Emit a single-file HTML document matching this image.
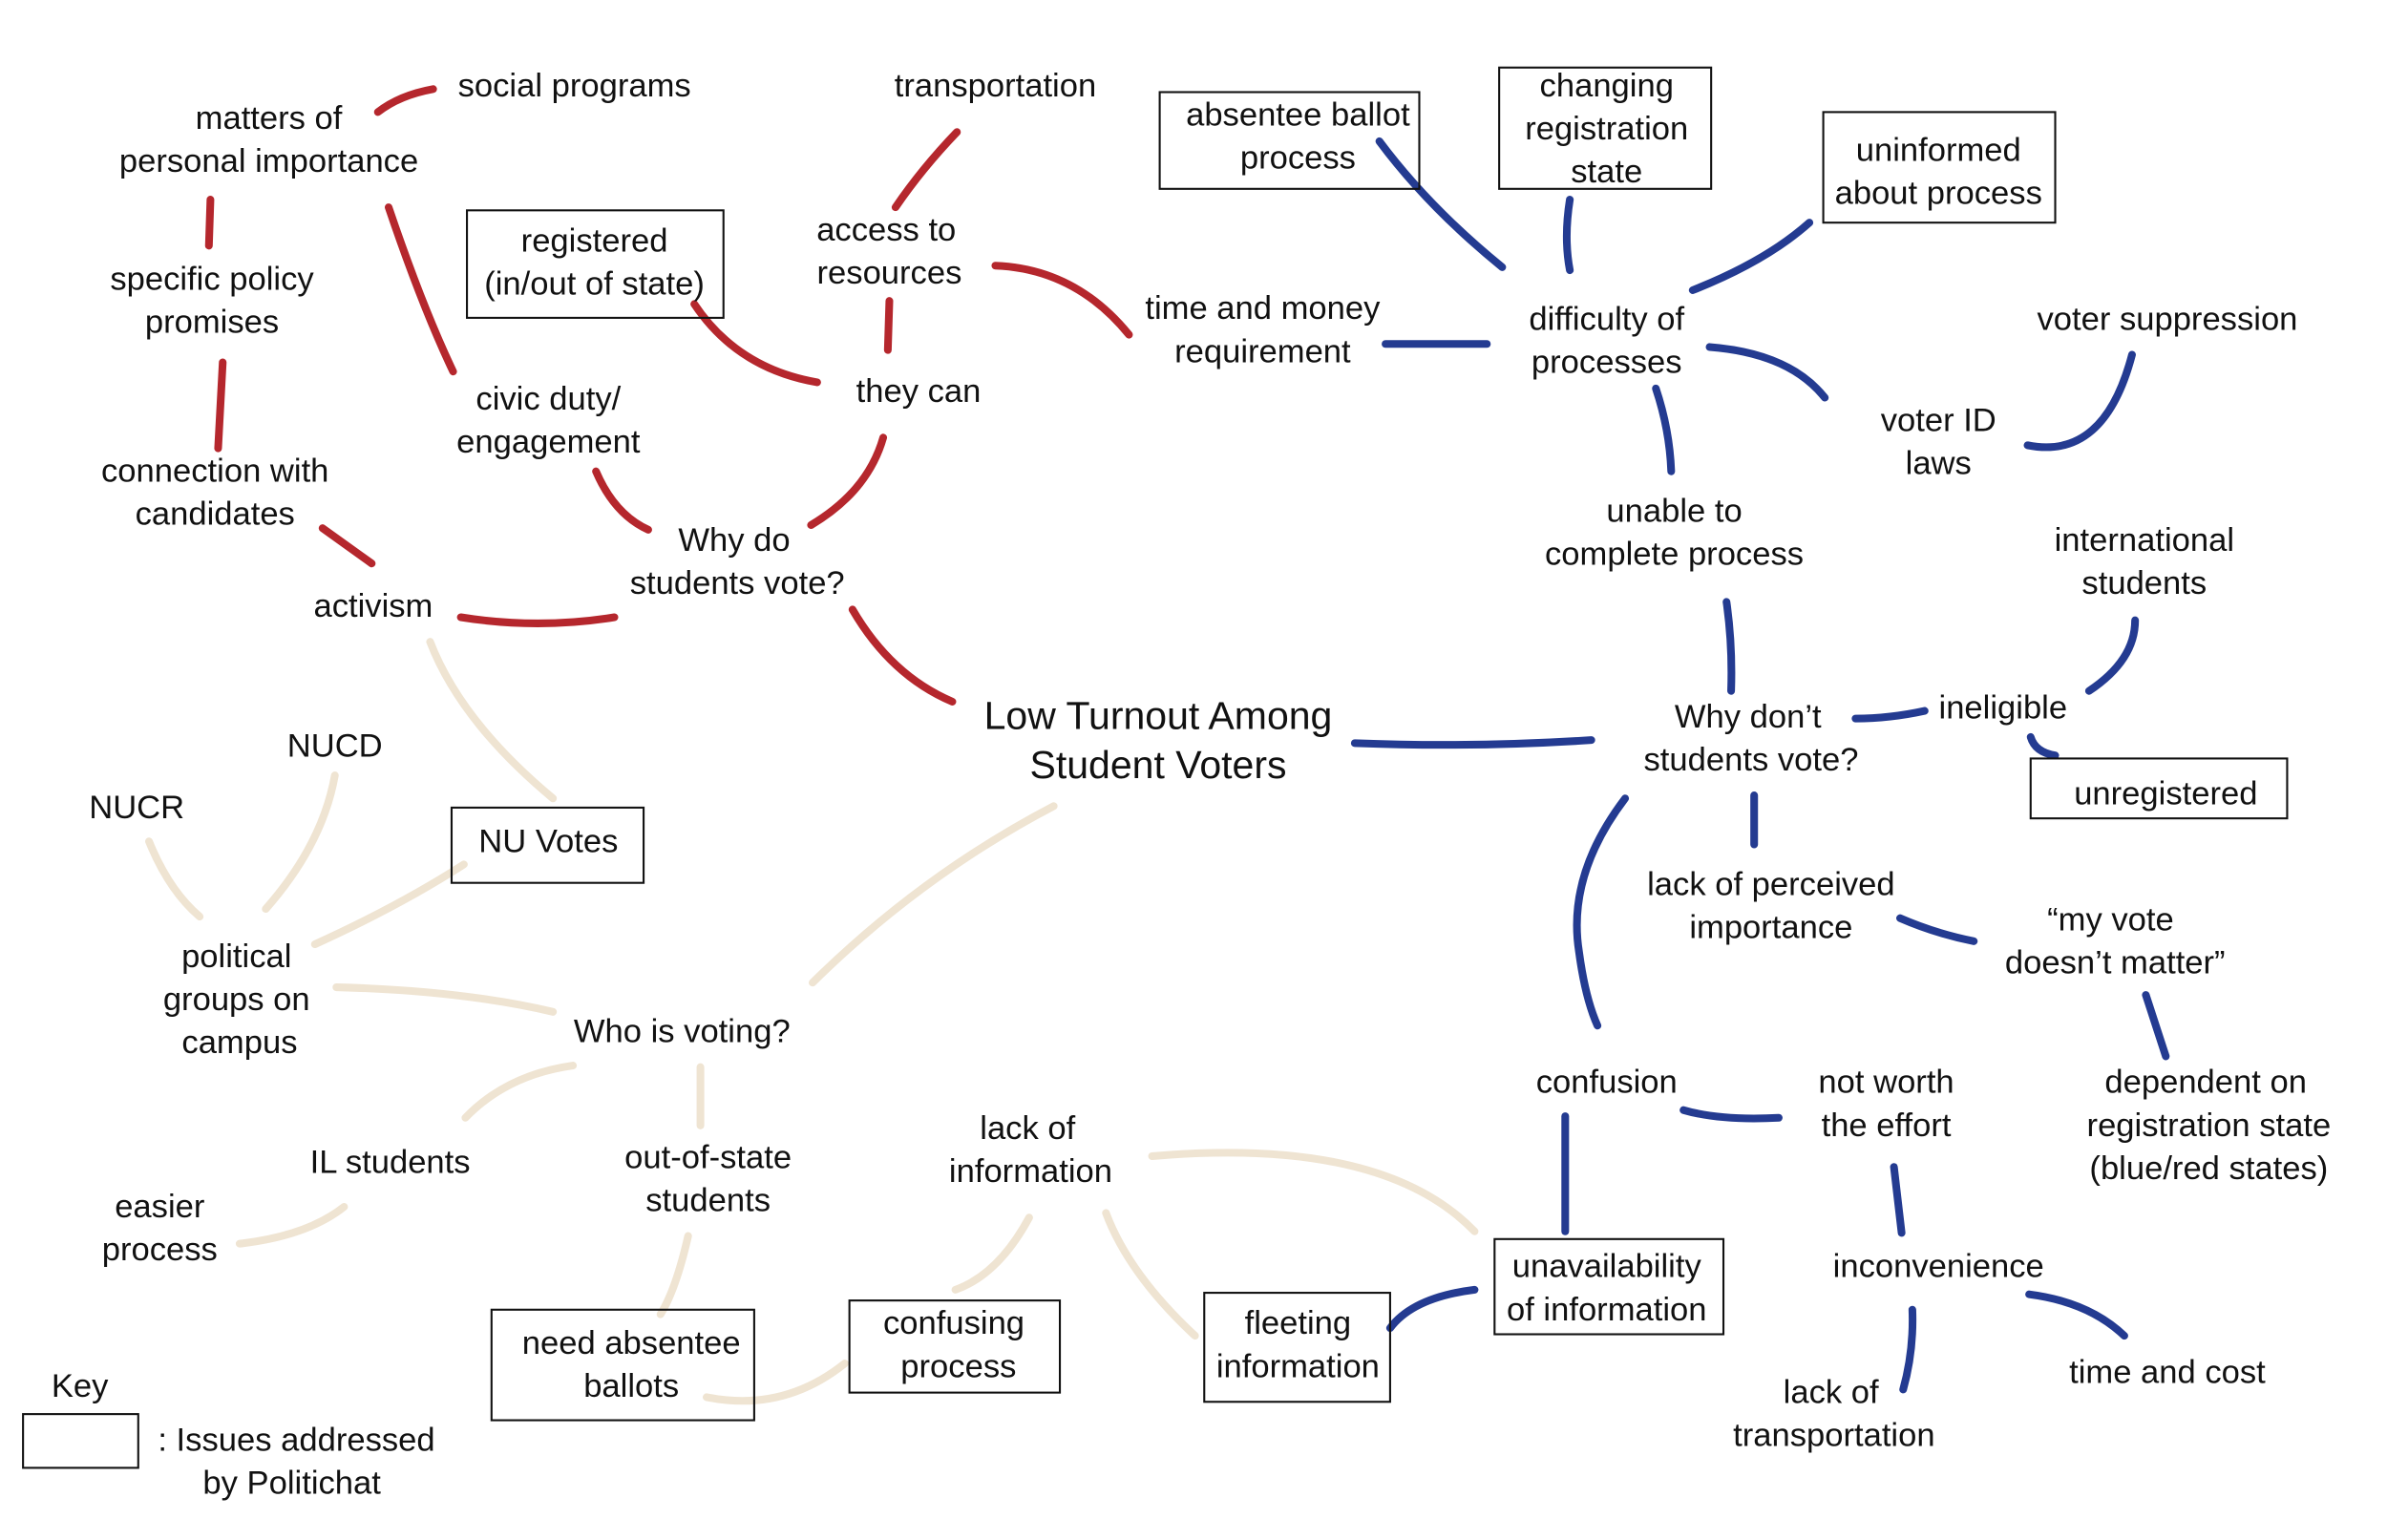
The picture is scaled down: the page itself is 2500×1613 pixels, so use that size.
<!DOCTYPE html>
<html><head><meta charset="utf-8"><style>
html,body{margin:0;padding:0;background:#fff;}
svg{display:block;}
text{font-family:"Liberation Sans",sans-serif;font-size:21.5px;fill:#111;text-anchor:middle;dominant-baseline:central;}
.r{stroke:#b5272d;}.b{stroke:#243b91;}.g{stroke:#efe4d2;}
path{fill:none;stroke-width:5;stroke-linecap:round;}
rect{fill:none;stroke:#111;stroke-width:1.3;}
</style></head><body>
<svg width="2500" height="1613" viewBox="0 0 1554 1003" preserveAspectRatio="none" xmlns="http://www.w3.org/2000/svg">
<path class="r" d="M246,73 Q260,62 282,58"/>
<path class="r" d="M137,130 L136,160"/>
<path class="r" d="M145,236 L142,292"/>
<path class="r" d="M210,344 L242,367"/>
<path class="r" d="M253,135 Q275,200 295,242"/>
<path class="r" d="M300,402 Q350,410 400,402"/>
<path class="r" d="M388,307 Q400,335 422,345"/>
<path class="r" d="M452,198 Q480,240 532,249"/>
<path class="r" d="M579,196 L578,228"/>
<path class="r" d="M528,342 Q565,320 575,285"/>
<path class="r" d="M583,135 Q600,110 623,86"/>
<path class="r" d="M648,173 Q700,175 735,218"/>
<path class="r" d="M555,397 Q580,440 620,457"/>
<path class="b" d="M882,484 Q960,487 1036,482"/>
<path class="b" d="M902,224 L968,224"/>
<path class="b" d="M898,92 Q930,135 978,174"/>
<path class="b" d="M1022,130 Q1018,155 1022,176"/>
<path class="b" d="M1102,189 Q1150,170 1178,145"/>
<path class="b" d="M1113,226 Q1165,230 1188,259"/>
<path class="b" d="M1320,290 Q1370,300 1388,231"/>
<path class="b" d="M1078,253 Q1087,280 1088,307"/>
<path class="b" d="M1124,392 Q1128,420 1127,450"/>
<path class="b" d="M1208,468 Q1230,468 1253,463"/>
<path class="b" d="M1360,450 Q1390,430 1390,404"/>
<path class="b" d="M1322,480 Q1325,490 1338,492"/>
<path class="b" d="M1142,518 L1142,550"/>
<path class="b" d="M1058,520 Q1020,570 1028,620 Q1032,650 1040,668"/>
<path class="b" d="M1237,598 Q1260,608 1285,613"/>
<path class="b" d="M1397,648 L1410,688"/>
<path class="b" d="M1096,723 Q1120,730 1158,728"/>
<path class="b" d="M1019,727 L1019,802"/>
<path class="b" d="M1233,760 L1238,803"/>
<path class="b" d="M905,865 Q920,845 960,840"/>
<path class="b" d="M1245,853 Q1246,880 1239,905"/>
<path class="b" d="M1321,843 Q1360,848 1383,870"/>
<path class="g" d="M280,418 Q300,470 360,520"/>
<path class="g" d="M686,525 Q600,570 529,640"/>
<path class="g" d="M218,505 Q210,550 173,592"/>
<path class="g" d="M97,548 Q110,580 130,597"/>
<path class="g" d="M205,615 Q260,590 302,563"/>
<path class="g" d="M219,643 Q300,645 360,659"/>
<path class="g" d="M373,694 Q330,700 303,728"/>
<path class="g" d="M456,695 L456,733"/>
<path class="g" d="M224,786 Q200,805 156,810"/>
<path class="g" d="M448,805 Q440,840 430,856"/>
<path class="g" d="M460,910 Q510,920 550,888"/>
<path class="g" d="M670,793 Q650,830 622,840"/>
<path class="g" d="M720,790 Q735,830 778,870"/>
<path class="g" d="M750,753 Q900,740 960,802"/>
<rect x="304" y="137" width="167" height="70"/>
<rect x="755" y="60" width="169" height="63"/>
<rect x="976" y="44" width="138" height="79"/>
<rect x="1187" y="73" width="151" height="72"/>
<rect x="1322" y="494" width="167" height="39"/>
<rect x="973" y="807" width="149" height="62"/>
<rect x="784" y="842" width="121" height="71"/>
<rect x="553" y="847" width="137" height="60"/>
<rect x="320" y="853" width="171" height="72"/>
<rect x="294" y="526" width="125" height="49"/>
<rect x="15" y="921" width="75" height="35"/>
<text x="374" y="56">social programs</text>
<text x="175" y="77">matters of</text><text x="175" y="105">personal importance</text>
<text x="138" y="182">specific policy</text><text x="138" y="210">promises</text>
<text x="140" y="307">connection with</text><text x="140" y="335">candidates</text>
<text x="243" y="395">activism</text>
<text x="357" y="260">civic  duty/</text><text x="357" y="288">engagement</text>
<text x="387" y="157">registered</text><text x="387" y="185">(in/out of state)</text>
<text x="648" y="56">transportation</text>
<text x="577" y="150">access to</text><text x="579" y="178">resources</text>
<text x="598" y="255">they can</text>
<text x="478" y="352">Why do</text><text x="480" y="380">students vote?</text>
<text x="822" y="201">time and money</text><text x="822" y="229">requirement</text>
<text x="845" y="75">absentee ballot</text><text x="845" y="103">process</text>
<text x="1046" y="56">changing</text><text x="1046" y="84">registration</text><text x="1046" y="112">state</text>
<text x="1262" y="98">uninformed</text><text x="1262" y="126">about process</text>
<text x="1046" y="208">difficulty of</text><text x="1046" y="236">processes</text>
<text x="1411" y="208">voter suppression</text>
<text x="1262" y="274">voter ID</text><text x="1262" y="302">laws</text>
<text x="1090" y="333">unable to</text><text x="1090" y="361">complete process</text>
<text x="1396" y="352">international</text><text x="1396" y="380">students</text>
<text x="1304" y="461">ineligible</text>
<text x="1410" y="517">unregistered</text>
<text x="1138" y="467">Why don’t</text><text x="1140" y="495">students vote?</text>
<text x="754" y="466" style="font-size:25.5px">Low Turnout Among</text><text x="754" y="498" style="font-size:25.5px">Student Voters</text>
<text x="1153" y="576">lack of perceived</text><text x="1153" y="604">importance</text>
<text x="1374" y="599">“my vote</text><text x="1377" y="627">doesn’t matter”</text>
<text x="1436" y="705">dependent on</text><text x="1438" y="733">registration state</text><text x="1438" y="761">(blue/red states)</text>
<text x="1046" y="705">confusion</text>
<text x="1228" y="705">not worth</text><text x="1228" y="733">the effort</text>
<text x="1262" y="825">inconvenience</text>
<text x="1411" y="894">time and cost</text>
<text x="1192" y="907">lack of</text><text x="1194" y="935">transportation</text>
<text x="1046" y="825">unavailability</text><text x="1046" y="853">of information</text>
<text x="845" y="862">fleeting</text><text x="845" y="890">information</text>
<text x="621" y="862">confusing</text><text x="624" y="890">process</text>
<text x="411" y="875">need absentee</text><text x="411" y="903">ballots</text>
<text x="669" y="735">lack of</text><text x="671" y="763">information</text>
<text x="461" y="754">out-of-state</text><text x="461" y="782">students</text>
<text x="254" y="757">IL students</text>
<text x="104" y="786">easier</text><text x="104" y="814">process</text>
<text x="444" y="672">Who is voting?</text>
<text x="154" y="623">political</text><text x="154" y="651">groups on</text><text x="156" y="679">campus</text>
<text x="89" y="526">NUCR</text>
<text x="218" y="486">NUCD</text>
<text x="357" y="548">NU Votes</text>
<text x="52" y="903">Key</text>
<text x="193" y="938">:  Issues addressed</text><text x="190" y="966">by Politichat</text>
</svg>
</body></html>
